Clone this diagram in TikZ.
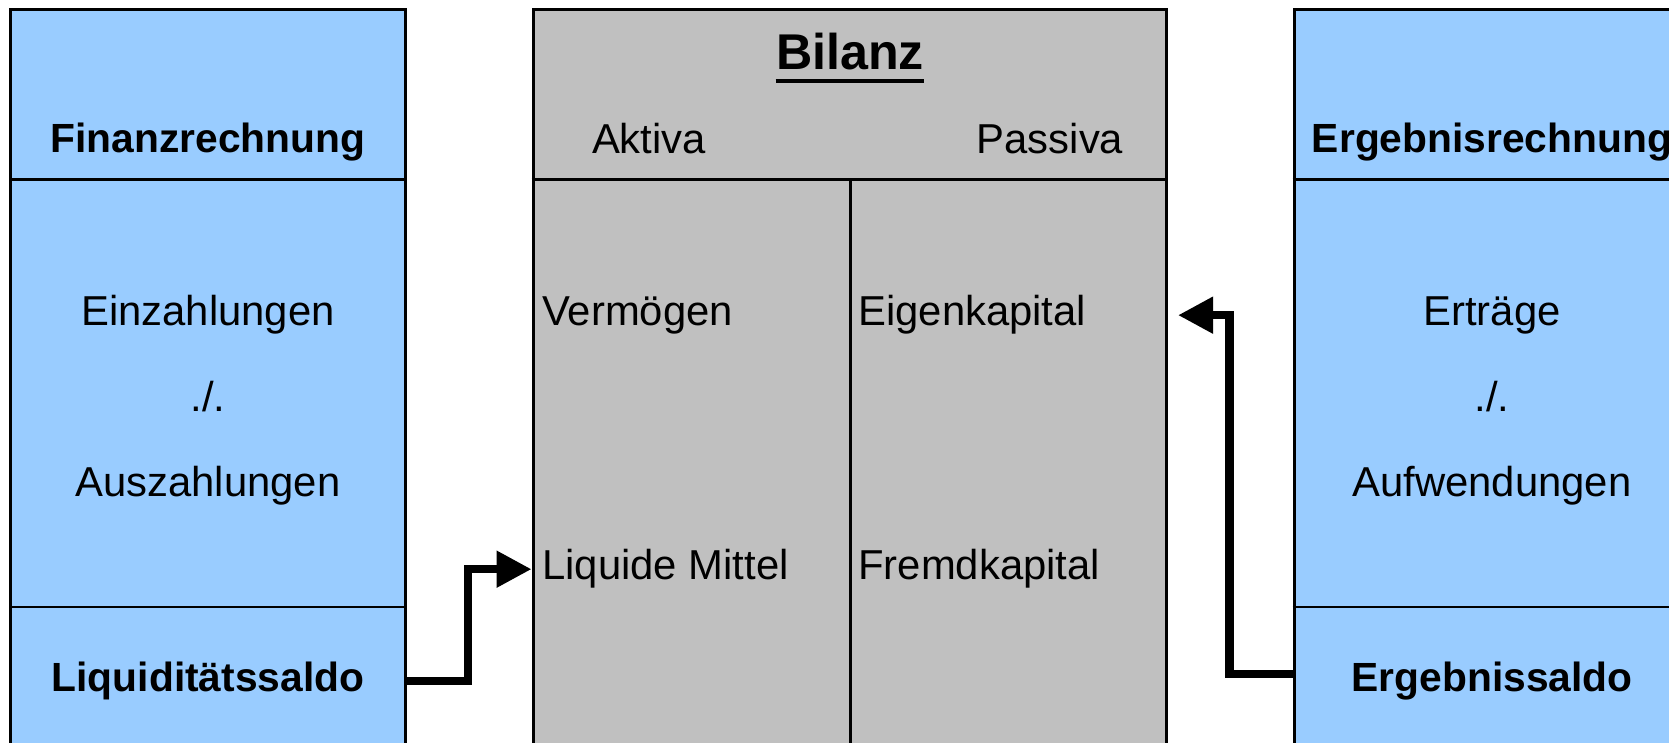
\documentclass[tikz,border=0pt]{standalone}
\usepackage{fontspec}
\setmainfont{Liberation Sans}
\usetikzlibrary{arrows.meta,fit}
\definecolor{kontoblau}{HTML}{99CCFF}
\definecolor{bilanzgrau}{HTML}{C0C0C0}
\tikzset{
  rahmen/.style={line width=1.7pt},
  konto/.style={rahmen, draw, inner sep=0pt, fill=kontoblau},
  bilanzbox/.style={rahmen, draw, inner sep=0pt, fill=bilanzgrau},
  kopf/.style={inner sep=0pt, anchor=base, font=\fontsize{23.2}{26}\selectfont\bfseries},
  posten/.style={inner sep=0pt, anchor=base, font=\fontsize{23.8}{27}\selectfont},
  fluss/.style={line width=4.6pt, -{Triangle[length=0.7cm,width=0.7cm]}},
}
\begin{document}
\begin{tikzpicture}[x=0.02cm,y=0.02cm]
\useasboundingbox (0,0) rectangle (1669,743);
\clip (0,0) rectangle (1669,743);
\fill[white] (0,0) rectangle (1669,743);

\coordinate (kopflinie) at (0,563);
\coordinate (saldolinie) at (0,136);
\coordinate (mitte) at (850.5,563);

\node[konto, fit={(10.6,-30) (405.5,733.4)}] (finanz) {};
\node[bilanzbox, fit={(533,-30) (1166.6,733.4)}] (bilanz) {};
\node[konto, fit={(1294,-30) (1720,733.4)}] (ergebnis) {};

\draw[rahmen] (finanz.west |- kopflinie) -- (finanz.east |- kopflinie);
\draw[rahmen] (finanz.west |- saldolinie) -- (finanz.east |- saldolinie);
\draw[rahmen] (bilanz.west |- kopflinie) -- (bilanz.east |- kopflinie);
\draw[rahmen] (mitte) -- (mitte |- bilanz.south);
\draw[rahmen] (ergebnis.west |- kopflinie) -- (ergebnis.east |- kopflinie);
\draw[rahmen] (ergebnis.west |- saldolinie) -- (ergebnis.east |- saldolinie);

\node[kopf] (finkopf) at (208,590) {Finanzrechnung};
\node[posten] (einzahl) at (208,417) {Einzahlungen};
\node[posten] (finminus) at (208,331) {./.};
\node[posten] (auszahl) at (208,246) {Auszahlungen};
\node[kopf] (liqsaldo) at (208,51) {Liquiditätssaldo};

\node[inner sep=0pt, anchor=base, font=\fontsize{28.6}{32}\selectfont\bfseries] (titel) at (850,673) {Bilanz};
\draw[line width=2.3pt] ([yshift=-0.22cm]titel.base west) -- ([yshift=-0.22cm]titel.base east);
\node[posten] (aktiva) at (649,589) {Aktiva};
\node[posten] (passiva) at (1050,589) {Passiva};
\node[posten, anchor=base west] (vermoegen) at (542,417) {Vermögen};
\node[posten, anchor=base west] (liquide) at (542,163) {Liquide Mittel};
\node[posten, anchor=base west] (eigen) at (858,417) {Eigenkapital};
\node[posten, anchor=base west] (fremd) at (858,163) {Fremdkapital};

\node[kopf] (ergkopf) at (1492,590) {Ergebnisrechnung};
\node[posten] (ertraege) at (1492,417) {Erträge};
\node[posten] (ergminus) at (1492,331) {./.};
\node[posten] (aufwand) at (1492,246) {Aufwendungen};
\node[kopf] (ergsaldo) at (1492,51) {Ergebnissaldo};

\draw[fluss] (finanz.east |- liqsaldo) -- ++(61,0) |- (bilanz.west |- liquide);
\draw[fluss] ([yshift=0.16cm]ergebnis.west |- ergsaldo) -- ++(-63,0) |- ([xshift=0.2cm]bilanz.east |- eigen);
\end{tikzpicture}
\end{document}
